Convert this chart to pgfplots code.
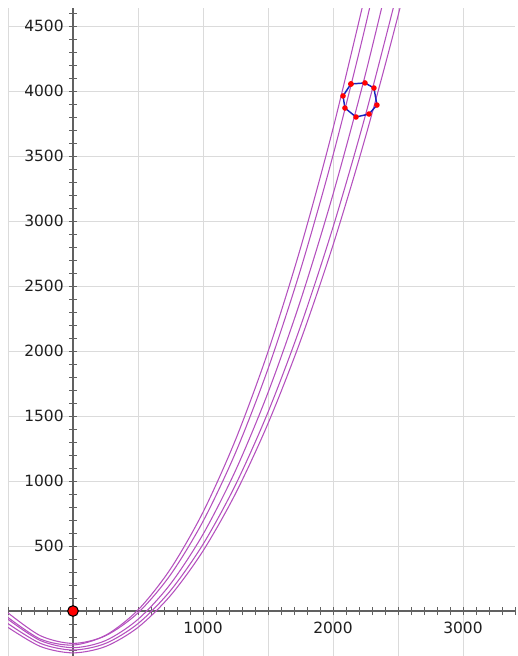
\documentclass[border=0pt]{standalone}
\usepackage{fontspec}
\setmainfont{DejaVu Sans}
\usepackage{pgfplots}
\pgfplotsset{compat=1.18}
\definecolor{curve}{RGB}{180,80,190}
\definecolor{octo}{RGB}{25,35,190}
\begin{document}
\begin{tikzpicture}
\useasboundingbox (0,0) rectangle (387.75pt,492pt);
\begin{axis}[
 at={(6pt,0pt)}, anchor=south west,
 scale only axis, width=380.25pt, height=485.94pt,
 xmin=-500, xmax=3400, ymin=-346, ymax=4638,
 axis lines=middle,
 axis line style={-, draw=black!62, line width=0.9pt},
 xtick={-500,0,500,1000,1500,2000,2500,3000},
 xticklabels={{},{},{},1000,{},2000,{},3000},
 ytick={500,1000,1500,2000,2500,3000,3500,4000,4500},
 minor xtick={-500,-400,...,3400},
 minor ytick={-300,-200,...,4600},
 tick align=center,
 major tick length=6pt, minor tick length=6pt,
 tick style={draw=black!62, line width=0.75pt},
 xmajorgrids, ymajorgrids,
 major grid style={draw=black!14, line width=0.75pt},
 /pgf/number format/assume math mode=true,
 /pgf/number format/1000 sep={},
 ticklabel style={font=\fontsize{11.6}{14}\selectfont, text=black!88},
 yticklabel style={anchor=east, xshift=-0.5pt},
 xticklabel style={anchor=north, yshift=-1.5pt},
 clip=true,
]
\addplot[curve, line width=0.8pt, smooth] coordinates {
(-500,-49.7) (-250,-216.0) (0,-261.8) (250,-187.1) (500,8.1) (750,323.9) (1000,760.1) (1250,1316.9) (1500,1994.2) (1750,2791.9) (2000,3710.2) (2250,4749.0)};
\addplot[curve, line width=0.8pt, smooth] coordinates {
(-500,-14.4) (-250,-190.3) (0,-249) (250,-190.3) (500,-14.4) (750,278.9) (1000,689.5) (1250,1217.4) (1500,1862.6) (1750,2625.2) (2000,3505) (2250,4502.2) (2500,5616.6)};
\addplot[curve, line width=0.8pt, smooth] coordinates {
(-500,-64.0) (-250,-227.5) (0,-282) (250,-227.5) (500,-64.0) (750,208.4) (1000,589.8) (1250,1080.2) (1500,1679.6) (1750,2387.9) (2000,3205.2) (2250,4131.5) (2500,5166.8)};
\addplot[curve, line width=0.8pt, smooth] coordinates {
(-500,-96.75) (-250,-249.2) (0,-300) (250,-249.2) (500,-96.75) (750,157.3) (1000,513) (1250,970.3) (1500,1529.3) (1750,2189.8) (2000,2952) (2250,3815.8) (2500,4781.3)};
\addplot[curve, line width=0.8pt, smooth] coordinates {
(-500,-126) (-250,-273) (0,-322) (250,-273) (500,-126) (750,119) (1000,462) (1250,903) (1500,1442) (1750,2079) (2000,2814) (2250,3647) (2500,4578) (2750,5607)};
\addplot[octo, line width=1.1pt, mark=*, mark size=1.5pt, mark options={fill=red, draw=red}] coordinates {
(2138,4054) (2246,4062) (2315,4023) (2338,3892) (2277,3823) (2177,3800) (2092,3869) (2077,3962) (2138,4054)};
\addplot[only marks, mark=*, mark size=4pt, mark options={fill=red, draw=black, line width=0.8pt}] coordinates {(0,0)};
\end{axis}
\end{tikzpicture}
\end{document}
